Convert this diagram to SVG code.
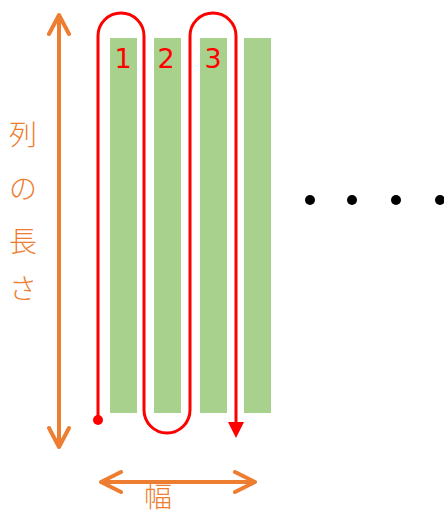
<svg xmlns="http://www.w3.org/2000/svg" width="444" height="515" viewBox="0 0 444 515">
<style>
.bar{fill:#A9D18E}
.num{font-family:"DejaVu Sans","Noto Sans",sans-serif;font-size:27px;fill:#FF0000;text-anchor:middle}
.jp{font-family:"Noto Sans CJK JP",sans-serif;font-size:28px;font-weight:300;fill:#ED7D31;text-anchor:middle}
.or{stroke:#ED7D31;stroke-width:4;fill:none;stroke-linecap:round;stroke-linejoin:round}
</style>
<rect width="444" height="515" fill="#fff"/>
<g id="bars">
<rect id="bar1" class="bar" x="110" y="38" width="27" height="375"/>
<rect id="bar2" class="bar" x="154" y="38" width="27" height="375"/>
<rect id="bar3" class="bar" x="200" y="38" width="27" height="375"/>
<rect id="bar4" class="bar" x="244" y="38" width="27" height="375"/>
</g>
<g id="connectors">
<path d="M98,420 V36 A23,23 0 0 1 144,36 V410 A23,23 0 0 0 190,410 V36 A23,23 0 0 1 236,36 V424" fill="none" stroke="#FF0000" stroke-width="3"/>
<circle cx="98" cy="420" r="5" fill="#FF0000"/>
<polygon points="236,438 228,422 244,422" fill="#FF0000"/>
<path class="or" d="M59,16 V446 M49,34 L59,15 L69,34 M49,428 L59,447 L69,428"/>
<path class="or" d="M102,482 H254 M121,472 L101,482 L121,492 M235,472 L255,482 L235,492"/>
</g>
<g id="labels">
<text class="num" x="123" y="68">1</text>
<text class="num" x="166" y="68">2</text>
<text class="num" x="213" y="68">3</text>
<text class="jp" x="23" y="145">列</text>
<text class="jp" x="23" y="199">の</text>
<text class="jp" x="23" y="252">長</text>
<text class="jp" x="23" y="299">さ</text>
<text class="jp" x="158" y="507">幅</text>
</g>
<g id="dots" fill="#000">
<circle cx="310" cy="200" r="5"/>
<circle cx="352" cy="200" r="5"/>
<circle cx="396" cy="200" r="5"/>
<circle cx="440" cy="200" r="5"/>
</g>
</svg>
